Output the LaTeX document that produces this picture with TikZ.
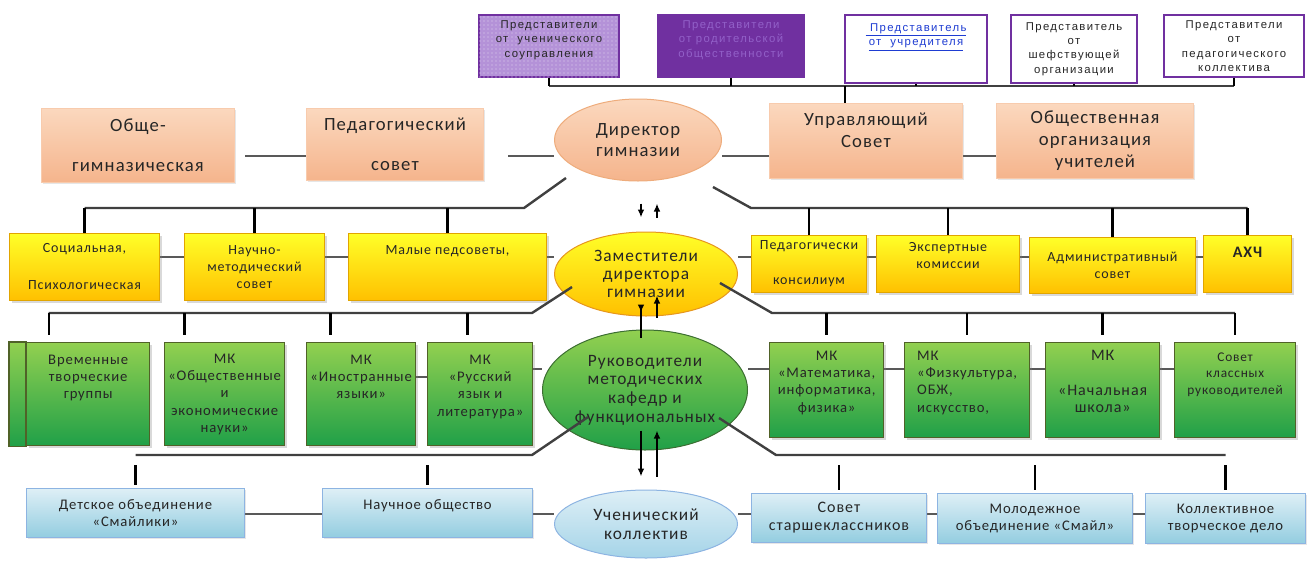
\documentclass[tikz,border=0pt]{standalone}
\usepackage{fontspec}
\setmainfont{Carlito}[LetterSpace=6]
\newfontfamily\repfont{Liberation Sans}[LetterSpace=12]
\usetikzlibrary{arrows.meta,shapes.geometric,shadows,patterns,backgrounds}

\definecolor{lilac}{RGB}{180,146,216}
\definecolor{purp}{RGB}{112,48,160}
\definecolor{purptxt}{RGB}{146,96,200}
\definecolor{linkblue}{RGB}{30,60,210}
\definecolor{peachtop}{RGB}{251,216,190}
\definecolor{peachbot}{RGB}{245,180,140}
\definecolor{peachline}{RGB}{248,203,173}
\definecolor{dirline}{RGB}{238,172,124}
\definecolor{yeltop}{RGB}{255,255,40}
\definecolor{yelbot}{RGB}{255,192,0}
\definecolor{yelline}{RGB}{225,165,0}
\definecolor{zamline}{RGB}{230,150,30}
\definecolor{grntop}{RGB}{146,208,80}
\definecolor{grnbot}{RGB}{32,160,72}
\definecolor{grnline}{RGB}{80,98,40}
\definecolor{rukline}{RGB}{60,110,50}
\definecolor{blutop}{RGB}{222,239,246}
\definecolor{blubot}{RGB}{147,205,224}
\definecolor{uchbot}{RGB}{165,212,232}
\definecolor{bluline}{RGB}{141,180,226}

\tikzset{every picture/.style={line width=0.75pt}}
\tikzset{
  rep/.style={draw=purp, line width=1.5pt, anchor=north west, inner sep=0pt, align=center, text=black!85, font=\repfont\fontsize{8.5}{10.75}\selectfont},
  peach/.style={draw=peachline, top color=peachtop, bottom color=peachbot, anchor=north west, inner sep=0pt, align=center, text=black!85, font=\fontsize{14}{16.5}\selectfont, drop shadow={shadow xshift=1pt, shadow yshift=-1pt, opacity=0.2}},
  ybox/.style={draw=yelline, top color=yeltop, bottom color=yelbot, anchor=north west, inner sep=0pt, align=center, text=black!85, font=\fontsize{10.5}{13}\selectfont, drop shadow={shadow xshift=1.5pt, shadow yshift=-1.5pt, opacity=0.3}},
  gbox/.style={draw=grnline, line width=1pt, top color=grntop, bottom color=grnbot, anchor=north west, inner sep=0pt, align=center, text=black!85, font=\fontsize{11}{13}\selectfont, drop shadow={shadow xshift=1.5pt, shadow yshift=-1.5pt, opacity=0.3}},
  bbox/.style={draw=bluline, top color=blutop, bottom color=blubot, anchor=north west, inner sep=0pt, align=center, text=black!85, font=\fontsize{11}{13}\selectfont, drop shadow={shadow xshift=1pt, shadow yshift=-1pt, opacity=0.2}},
  oval/.style={ellipse, inner sep=0pt, align=center, text=black!85},
  link/.style={draw=black!65, line width=1.1pt},
  bus/.style={draw=black!75, line width=1.8pt},
  tick/.style={draw=black, line width=1.8pt},
  arr/.style={draw=black, line width=1.3pt, -{Latex[length=6pt,width=5pt]}}
}

\begin{document}
\begin{tikzpicture}[x=0.75pt,y=0.75pt,yscale=-1,xscale=1]
\useasboundingbox (0,0) rectangle (1307,565);

%Representatives
\node[rep, fill=lilac, postaction={pattern=dots, pattern color=white!60!lilac}, minimum width=105pt, minimum height=46.5pt] (rep1) at (478,14) {Представители\\от\ \ ученического\\соуправления\\~};
\node[rep, fill=purp, text=purptxt, minimum width=109.5pt, minimum height=46.5pt] (rep2) at (657,14) {Представители\\от родительской\\общественности\\~};
\node[rep, fill=white, text=linkblue, minimum width=106.5pt, minimum height=51pt] (rep3) at (844,14) {\underline{\ Представитель}\\\underline{от\ \ учредителя}\\~\\~};
\node[rep, fill=white, minimum width=94.5pt, minimum height=51pt] (rep4) at (1010,14) {Представитель\\от\\шефствующей\\организации};
\node[rep, fill=white, minimum width=105pt, minimum height=46.5pt] (rep5) at (1163,14) {Представители\\от\\педагогического\\коллектива};

%Director row
\node[peach, minimum width=144.75pt, minimum height=55.5pt] (obsh) at (41,108) {Обще-\\[13.5pt]гимназическая};
\node[peach, minimum width=132.75pt, minimum height=54pt] (pedsov) at (306,108) {Педагогический\\[13.5pt]совет};
\node[oval, top color=peachtop, bottom color=peachbot, draw=dirline, minimum width=125.25pt, minimum height=61.5pt, font=\fontsize{14}{16}\selectfont] (dir) at (638,140) {Директор\\гимназии};
\node[peach, minimum width=144.75pt, minimum height=56.25pt] (upr) at (769,103) {Управляющий\\Совет\\~};
\node[peach, minimum width=147.75pt, minimum height=56.25pt] (obshorg) at (996,103) {Общественная\\организация\\учителей};

%Deputies row
\node[ybox, minimum width=112.5pt, minimum height=50.25pt] (soc) at (9,233) {Социальная,\\[14.75pt]Психологическая};
\node[ybox, minimum width=105pt, minimum height=50.25pt] (nauch) at (184,233) {Научно-\\методический\\совет};
\node[ybox, minimum width=148.5pt, minimum height=50.25pt] (maly) at (348,233) {Малые педсоветы,\\~\\~};
\node[oval, top color=yeltop, bottom color=yelbot, draw=zamline, minimum width=137.25pt, minimum height=63pt, font=\fontsize{13}{13.5}\selectfont] (zam) at (646,274) {Заместители\\директора\\гимназии};
\node[ybox, minimum width=86.25pt, minimum height=42.75pt] (pedkons) at (751,235) {Педагогически\\[13.25pt]консилиум};
\node[ybox, minimum width=107.25pt, minimum height=42.75pt] (expert) at (876,235) {Экспертные\\комиссии\\~};
\node[ybox, minimum width=124.5pt, minimum height=42pt] (admin) at (1029,237) {Административный\\совет};
\node[ybox, minimum width=66pt, minimum height=42.75pt, font=\bfseries\fontsize{12}{13}\selectfont] (ahch) at (1203,235) {АХЧ\\[4pt]~};

%Departments row
\node[gbox, minimum width=92.25pt, minimum height=77.25pt] (vrem) at (26,342) {Временные\\творческие\\группы\\~\\~};
\draw[draw=grnline, line width=1pt, top color=grntop, bottom color=grnbot] ([xshift=-12.75pt]vrem.south west) rectangle (vrem.north west);
\node[gbox, minimum width=90pt, minimum height=77.25pt] (obshch) at (164,342) {МК\\«Общественные\\и\\экономические\\науки»};
\node[gbox, minimum width=81.75pt, minimum height=77.25pt] (inostr) at (306,342) {МК\\«Иностранные\\языки»\\~\\~};
\node[gbox, minimum width=78.75pt, minimum height=77.25pt] (russ) at (427,342) {МК\\«Русский\\язык и\\литература»\\~};
\node[oval, top color=grntop, bottom color=grnbot, draw=rukline, minimum width=153.75pt, minimum height=90pt, font=\fontsize{13}{14}\selectfont] (ruk) at (645,390) {Руководители\\методических\\кафедр и\\функциональных};
\node[gbox, minimum width=85.5pt, minimum height=71.25pt] (mat) at (769,342) {МК\\«Математика,\\информатика,\\физика»\\~};
\node[gbox, minimum width=93.75pt, minimum height=71.25pt, align=left, text width=75pt] (fiz) at (904,342) {МК\\«Физкультура,\\ОБЖ,\\искусство,\\~};
\node[gbox, minimum width=85.5pt, minimum height=71.25pt, font=\fontsize{12}{13}\selectfont] (nach) at (1045,342) {МК\\~\\«Начальная\\школа»\\~};
\node[gbox, minimum width=90.75pt, minimum height=71.25pt, font=\fontsize{10}{12.5}\selectfont] (sovkl) at (1174,342) {Совет\\классных\\руководителей\\~\\~};

%Pupils row
\node[bbox, minimum width=163.5pt, minimum height=36.75pt] (det) at (26,488) {Детское объединение\\«Смайлики»};
\node[bbox, minimum width=157.5pt, minimum height=36.75pt] (nauchob) at (322,488) {Научное общество\\~};
\node[oval, top color=blutop, bottom color=uchbot, draw=bluline, minimum width=137.25pt, minimum height=51pt, font=\fontsize{13}{14}\selectfont] (uch) at (646,524) {Ученический\\коллектив};
\node[bbox, minimum width=131.25pt, minimum height=36.75pt, font=\fontsize{12}{13.5}\selectfont] (sovst) at (751,493) {Совет\\старшеклассников};
\node[bbox, minimum width=146.25pt, minimum height=37.5pt] (mol) at (937,493) {Молодежное\\объединение «Смайл»};
\node[bbox, minimum width=120pt, minimum height=37.5pt] (koll) at (1145,493) {Коллективное\\творческое дело};

%Horizontal links
\coordinate (l2) at (0,156);
\coordinate (l3) at (0,257);
\coordinate (l4) at (0,369);
\coordinate (l4b) at (0,377);
\coordinate (l5) at (0,514);
\begin{scope}[on background layer]
\draw[link] ([xshift=7.5pt]obsh.east |- l2) -- (pedsov.west |- l2);
\draw[link] ([xshift=18pt]pedsov.east |- l2) -- (dir.west |- l2);
\draw[link] (dir.east |- l2) -- (upr.west |- l2);
\draw[link] ([xshift=-6pt]upr.east |- l2) -- ([xshift=5pt]obshorg.west |- l2);
\draw[link] (soc.east |- l3) -- (nauch.west |- l3);
\draw[link] (nauch.east |- l3) -- (maly.west |- l3);
\draw[link] (maly.east |- l3) -- (zam.west |- l3);
\draw[link] (zam.east |- l3) -- (pedkons.west |- l3);
\draw[link] (pedkons.east |- l3) -- (expert.west |- l3);
\draw[link] (expert.east |- l3) -- (admin.west |- l3);
\draw[link] (admin.east |- l3) -- (ahch.west |- l3);
\draw[link] ([xshift=-4pt]inostr.east |- l4b) -- (russ.west |- l4b);
\draw[link] (russ.east |- l4) -- (ruk.west |- l4);
\draw[link] (ruk.east |- l4) -- (mat.west |- l4);
\draw[link] (mat.east |- l4) -- (fiz.west |- l4);
\draw[link] (fiz.east |- l4) -- (nach.west |- l4);
\draw[link] (nach.east |- l4) -- (sovkl.west |- l4);
\draw[link] (det.east |- l5) -- (nauchob.west |- l5);
\draw[link] (nauchob.east |- l5) -- (uch.west |- l5);
\draw[link] (uch.east |- l5) -- (sovst.west |- l5);
\draw[link] (sovst.east |- l5) -- (mol.west |- l5);
\draw[link] (mol.east |- l5) -- (koll.west |- l5);
\end{scope}

%Buses
\coordinate (tb) at (0,86);
\coordinate (tdrop) at (845,86);
\draw[bus] (rep1.south |- tb) -- (rep5.south |- tb);
\foreach \r in {rep1,rep2,rep3,rep4,rep5} \draw[tick] (\r.south) -- (\r.south |- tb);
\draw[tick] (tdrop) -- (tdrop |- upr.north);

\coordinate (b3l) at (524,208);
\coordinate (b3r) at (751,208);
\draw[bus] ([shift={(-72,38)}]dir.center) -- (b3l) -- (soc.north |- b3l);
\draw[bus] ([shift={(75,47)}]dir.center) -- (b3r) -- (ahch.north |- b3r);
\foreach \b in {soc,nauch,maly,pedkons,expert,admin,ahch} \draw[tick] (\b.north |- b3l) -- (\b.north);

\coordinate (b4l) at (532,313);
\coordinate (b4r) at (772,313);
\draw[bus] ([shift={(-74,13)}]zam.center) -- (b4l) -- ([xshift=-29.6pt]vrem.north |- b4l);
\draw[bus] ([shift={(74,9)}]zam.center) -- (b4r) -- (sovkl.north |- b4r);
\foreach \b/\dx in {vrem/-29.6pt,obshch/-30pt,inostr/-22.9pt,russ/-9.4pt,mat/0pt,fiz/0pt,nach/0pt,sovkl/0pt}
  \draw[tick, shorten >=5pt] ([xshift=\dx]\b.north |- b4l) -- ([xshift=\dx]\b.north);

\coordinate (b5l) at (532,455);
\coordinate (b5r) at (776,455);
\draw[bus] ([shift={(-57,27)}]ruk.center) -- (b5l) -- (det.north |- b5l);
\draw[bus] ([shift={(74,28)}]ruk.center) -- (b5r) -- (koll.north |- b5r);
\foreach \b in {det,nauchob,sovst,mol,koll} \draw[tick, shorten <=7.5pt, shorten >=2pt] (\b.north |- b5l) -- (\b.north);

%Arrows
\coordinate (al) at (641,0);
\coordinate (ar) at (657,0);
\draw[arr, shorten <=16.5pt, shorten >=10.5pt] (al |- dir.south) -- (al |- zam.north);
\draw[arr, shorten <=10.5pt, shorten >=16.5pt] (ar |- zam.north) -- (ar |- dir.south);
\draw[arr, shorten <=-15.75pt, shorten >=12.75pt] (al |- zam.south) -- (al |- ruk.north);
\draw[arr, shorten <=9pt, shorten >=-15.75pt] (ar |- ruk.north) -- (ar |- zam.south);
\draw[arr, shorten <=-15pt, shorten >=9.75pt] (al |- ruk.south) -- (al |- uch.north);
\draw[arr, shorten <=9.75pt, shorten >=-15pt] (ar |- uch.north) -- (ar |- ruk.south);

\end{tikzpicture}
\end{document}
